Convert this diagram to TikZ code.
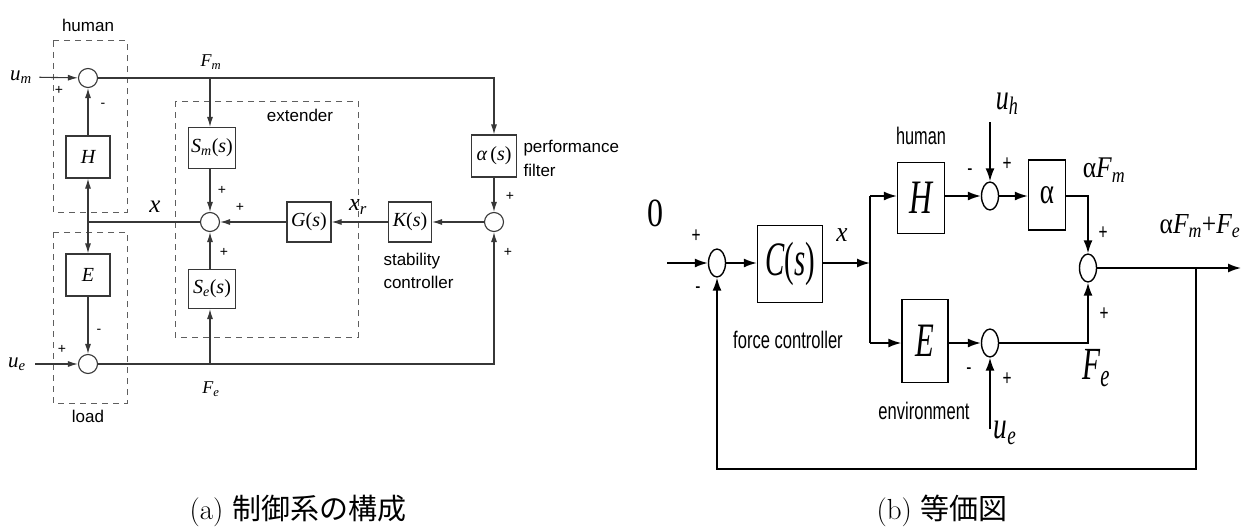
\RequirePackage{fix-cm}
\documentclass[tikz,border=0pt]{standalone}
\usepackage{fontspec}
\usepackage{graphicx}
\usetikzlibrary{arrows.meta,positioning,calc,shapes.geometric}
\newfontfamily\labelsans{Liberation Sans}
\newfontfamily\tms{Liberation Serif}
\newfontfamily\cjkfont{Noto Sans CJK JP}
\definecolor{lineleft}{RGB}{55,55,55}
\definecolor{dashgray}{RGB}{95,95,95}
\newcommand{\cond}[2][0.6]{\scalebox{#1}[1]{#2}}
\newcommand{\fsz}[1]{\fontsize{#1}{#1}\selectfont}
\newcommand{\rvar}[1]{{\tms\itshape #1}}

\begin{document}
\begin{tikzpicture}[x=1pt, y=-1pt,
    blockL/.style={draw=lineleft, line width=1.1pt, minimum width=44pt, minimum height=42pt, inner sep=1pt, font=\tms\fsz{20}},
    sumL/.style={draw=lineleft, line width=1.1pt, circle, minimum size=19pt, inner sep=0pt},
    sigL/.style={draw=lineleft, line width=1.1pt, -{Latex[length=10pt,width=6pt]}},
    lineL/.style={draw=lineleft, line width=1.1pt},
    groupbox/.style={draw=dashgray, line width=1pt, dash pattern=on 6pt off 5pt},
    txtL/.style={font=\labelsans\fsz{17}},
    signL/.style={font=\labelsans\fsz{14}},
    blockR/.style={draw=black, line width=1.4pt, inner sep=0pt},
    sumR/.style={draw=black, line width=1.4pt, ellipse, minimum width=17pt, minimum height=28pt, inner sep=0pt},
    sigR/.style={draw=black, line width=1.6pt, -{Latex[length=13pt,width=9pt]}},
    lineR/.style={draw=black, line width=1.6pt},
    txtR/.style={font=\labelsans\fsz{24}},
    signR/.style={font=\labelsans\fsz{22}}]
    \useasboundingbox (0,0) rectangle (1244,527);

    % ---------- (a) structure of the control system ----------
    % Dashed groups
    \draw[groupbox] (53,41) rectangle (127,212);
    \draw[groupbox] (53,232) rectangle (127,403);
    \draw[groupbox] (175,101) rectangle (358,337);
    \node[txtL] (humanlbl) at (88,25) {human};
    \node[txtL] (loadlbl) at (88,416) {load};
    \node[txtL] (extlbl) at (300,115) {extender};

    % Blocks and summing points
    \node[sumL] (hsum) at (88,78) {};
    \node[blockL] (H) at (88,157) {\rvar{H}};
    \node[blockL] (E) at (88,275) {\rvar{E}};
    \node[sumL] (lsum) at (88,364) {};
    \node[sumL] (xsum) at (210,222) {};
    \node[blockL, minimum width=47pt, minimum height=41pt] (Sm) at (212,148) {\rvar{S\textsubscript{m}}(\rvar{s})};
    \node[blockL, minimum width=47pt, minimum height=39pt] (Se) at (212,289) {\rvar{S\textsubscript{e}}(\rvar{s})};
    \node[blockL, minimum width=44pt, minimum height=40pt] (G) at (309,222) {\rvar{G}(\rvar{s})};
    \node[blockL, minimum width=43pt, minimum height=40pt] (K) at (410,222) {\rvar{K}(\rvar{s})};
    \node[sumL] (ksum) at (494,222) {};
    \node[blockL, minimum width=45pt, minimum height=42pt] (A) at (494,156) {\rvar{α}\,(\rvar{s})};

    % Inputs and branch points
    \node[font=\fsz{21}] (umlbl) at (21,77) {\rvar{u\textsubscript{m}}};
    \node[font=\fsz{21}] (uelbl) at (17,364) {\rvar{u\textsubscript{e}}};
    \coordinate (xj) at (88,222);
    \coordinate (fm) at (210,78);
    \coordinate (fe) at (210,364);

    % Signals
    \draw[sigL, shorten <=4pt] (umlbl) -- (hsum);
    \draw[sigL, shorten <=6pt] (uelbl) -- (lsum);
    \draw[sigL] (H) -- (hsum);
    \draw[lineL] (xsum) -- (xj);
    \draw[sigL] (xj) -- (H);
    \draw[sigL] (xj) -- (E);
    \draw[sigL] (E) -- (lsum);
    \draw[sigL] (hsum.east) -| (A.north);
    \draw[sigL] (fm) -- (fm |- Sm.north);
    \draw[sigL] (Sm.south -| xsum) -- (xsum);
    \draw[sigL] (fe) -- (fe |- Se.south);
    \draw[sigL] (Se.north -| xsum) -- (xsum);
    \draw[sigL] (G) -- (xsum);
    \draw[sigL] (K) -- (G);
    \draw[sigL] (ksum) -- (K);
    \draw[sigL] (A) -- (ksum);
    \draw[sigL] (lsum.east) -| (ksum.south);

    % Signal labels and signs
    \node[font=\fsz{18}] (fmlbl) at (211,62) {\rvar{F\textsubscript{m}}};
    \node[font=\fsz{18}] (felbl) at (211,389) {\rvar{F\textsubscript{e}}};
    \node[font=\fsz{25}] (xlbl) at (155,207) {\rvar{x}};
    \node[font=\fsz{24}] (xrlbl) at (358,207) {\rvar{x\textsubscript{r}}};
    \node[signL] at (59,90) {+};
    \node[signL] at (103,105) {-};
    \node[signL] at (62,349) {+};
    \node[signL] at (99,331) {-};
    \node[signL] at (222,190) {+};
    \node[signL] at (240,207) {+};
    \node[signL] at (224,252) {+};
    \node[signL] at (510,196) {+};
    \node[signL] at (508,252) {+};
    \node[txtL, align=left, anchor=west, font=\labelsans\fontsize{17}{24}\selectfont] (perflbl) at (520,158) {performance\\filter};
    \node[txtL, align=left, anchor=west, font=\labelsans\fontsize{17}{23}\selectfont] (stablbl) at (380,271) {stability\\controller};

    % ---------- (b) equivalent diagram ----------
    \node[sumR] (s0) at (717,263) {};
    \node[blockR, minimum width=65pt, minimum height=77pt, font=\tms\fsz{48}] (C) at (790,264) {\cond[0.6]{\rvar{C}(\rvar{s})}};
    \node[blockR, minimum width=47pt, minimum height=71pt, font=\fsz{48}] (Hr) at (921,198) {\cond[0.66]{\rvar{H}}};
    \node[sumR] (hs) at (990,196) {};
    \node[blockR, minimum width=37pt, minimum height=70pt, font=\tms\fsz{36}] (Ar) at (1047,195) {\cond[0.75]{α}};
    \node[blockR, minimum width=46pt, minimum height=83pt, font=\fsz{48}] (Er) at (925,341) {\cond[0.64]{\rvar{E}}};
    \node[sumR] (es) at (990,343) {};
    \node[sumR] (os) at (1088,268) {};

    \coordinate (in) at (667,263);
    \coordinate (xbr) at (870,263);
    \coordinate (xtop) at (870,196);
    \coordinate (xbot) at (870,343);
    \coordinate (uh) at (990,122);
    \coordinate (ue) at (990,429);
    \coordinate (out) at (1241,268);
    \coordinate (fb) at (1196,268);
    \coordinate (fbl) at (717,469);

    \draw[sigR] (in) -- (s0);
    \draw[sigR] (s0) -- (s0 -| C.west);
    \draw[sigR] (s0 -| C.east) -- (xbr);
    \draw[lineR] (xtop) -- (xbot);
    \draw[sigR] (xtop) -- (xtop -| Hr.west);
    \draw[sigR] (xbot) -- (xbot -| Er.west);
    \draw[sigR] (hs -| Hr.east) -- (hs);
    \draw[sigR] (hs) -- (hs -| Ar.west);
    \draw[sigR] (hs -| Ar.east) -| (os.north);
    \draw[sigR] (es -| Er.east) -- (es);
    \draw[sigR] (es.east) -| (os.south);
    \draw[sigR] (uh) -- (hs);
    \draw[sigR] (ue) -- (es);
    \draw[sigR] (os) -- (out);
    \draw[sigR] (fb) |- (fbl) -- (s0);

    % Labels
    \node[font=\tms\fsz{40}] (zerolbl) at (655,213) {\cond[0.8]{0}};
    \node[font=\fsz{28}] (xrl) at (842,235) {\cond[0.9]{\rvar{x}}};
    \node[txtR] (hrl) at (921,136) {\cond[0.68]{human}};
    \node[txtR] (fcl) at (788,340) {\cond[0.69]{force controller}};
    \node[txtR] (envl) at (924,411) {\cond[0.69]{environment}};
    \node[font=\fsz{36}] (uhl) at (1007,104) {\cond[0.72]{\rvar{u\textsubscript{h}}}};
    \node[font=\fsz{38}] (uel) at (1005,433) {\cond[0.72]{\rvar{u\textsubscript{e}}}};
    \node[font=\fsz{30}] (afml) at (1104,170) {\cond[0.85]{{\tms α}\rvar{F\textsubscript{m}}}};
    \node[font=\fsz{29}] (outl) at (1200,226) {\cond[0.88]{{\tms α}\rvar{F\textsubscript{m}}{\tms +}\rvar{F\textsubscript{e}}}};
    \node[font=\fsz{46}] (fel) at (1096,368) {\cond[0.64]{\rvar{F\textsubscript{e}}}};
    \node[signR] at (696,236) {\cond[0.7]{+}};
    \node[signR] at (698,290) {\cond[0.7]{-}};
    \node[signR] at (970,172) {\cond[0.7]{-}};
    \node[signR] at (1007,164) {\cond[0.7]{+}};
    \node[signR] at (1103,233) {\cond[0.7]{+}};
    \node[signR] at (1104,314) {\cond[0.7]{+}};
    \node[signR] at (969,371) {\cond[0.7]{-}};
    \node[signR] at (1007,379) {\cond[0.7]{+}};

    % Captions
    \node[anchor=west, font=\fsz{29}] (capa) at (186,511) {(a) {\cjkfont 制御系の構成}};
    \node[anchor=west, font=\fsz{29}] (capb) at (873,511) {(b) {\cjkfont 等価図}};
\end{tikzpicture}
\end{document}
